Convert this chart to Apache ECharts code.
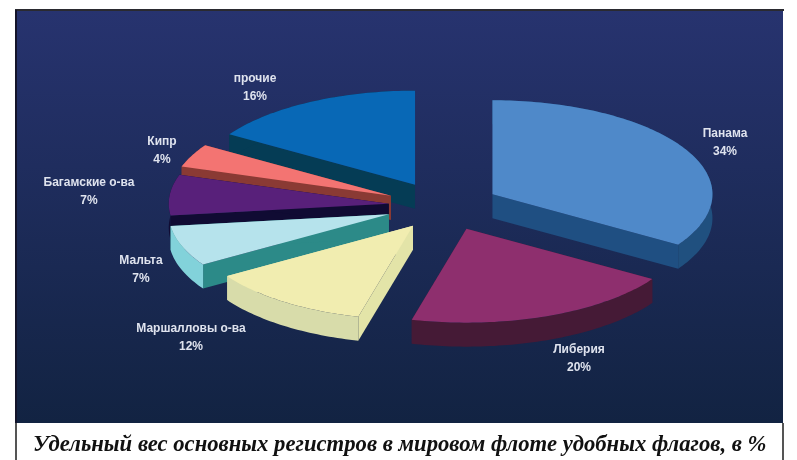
<!DOCTYPE html>
<html>
<head>
<meta charset="utf-8">
<style>html,body{margin:0;background:#fff}#main{width:797px;height:460px}</style>
<script src="https://cdn.jsdelivr.net/npm/echarts@6/dist/echarts.min.js"></script>
</head>
<body>
<div id="main"></div>
<script>
var names = ['Панама', 'Либерия', 'Маршалловы о-ва', 'Мальта', 'Багамские о-ва', 'Кипр', 'прочие']
var shares = [34, 20, 12, 7, 7, 4, 16]
var topColors = ['#4f89c9', '#8e2f6e', '#f1edb0', '#b6e3ec', '#58207a', '#f37472', '#0868b6']
var edgeColors = ['#1f4f82', '#4a1a38', '#e3e4a8', '#2c8a88', '#100b33', '#8a3a34', '#053c55']
var rimColors = ['#20507f', '#451a36', '#d8dcaa', '#82d2da', '#100b33', '#8a3a34', '#053c55']
var labelAt = [[725, 143], [579, 359], [191, 338], [141, 270], [89, 192], [162, 151], [255, 88]]
// back to front
var paintOrder = [6, 0, 5, 4, 3, 1, 2]
var nudgeX = [0, 3, 4, 0, 3, 0, 0]
var caption = 'Удельный вес основных регистров в мировом флоте удобных флагов, в %'

var cx = 442.5
var cy = 206
var rx = 220
var ry = 94
var depth = 24
var explode = 57

var starts = []
var sum = 0
shares.forEach(function(s) {
  starts.push(sum)
  sum += s
})

function toAngle(pct) {
  return (pct / 100 * 360 - 90) * Math.PI / 180
}

function renderSlice(params, api) {
  var idx = api.value(0)
  var a0 = toAngle(starts[idx])
  var a1 = toAngle(starts[idx] + shares[idx])
  var mid = (a0 + a1) / 2
  var ox = cx + explode * Math.cos(mid) + nudgeX[idx]
  var oy = cy + explode * Math.sin(mid) * ry / rx

  var arc = []
  var steps = Math.ceil((a1 - a0) / 0.02)
  for (var i = 0; i <= steps; i++) {
    var a = a0 + (a1 - a0) * i / steps
    arc.push([ox + rx * Math.cos(a), oy + ry * Math.sin(a)])
  }
  var first = arc[0]
  var last = arc[arc.length - 1]

  function down(p) {
    return [p[0], p[1] + depth]
  }
  function poly(points, color) {
    return { type: 'polygon', shape: { points: points }, style: { fill: color } }
  }

  var rim = arc.concat(arc.map(down).reverse())
  return {
    type: 'group',
    children: [
      poly([[ox, oy], first, down(first), [ox, oy + depth]], edgeColors[idx]),
      poly([[ox, oy], last, down(last), [ox, oy + depth]], edgeColors[idx]),
      poly(rim, rimColors[idx]),
      poly([[ox, oy]].concat(arc), topColors[idx]),
      {
        type: 'text',
        z2: 100,
        style: {
          x: labelAt[idx][0],
          y: labelAt[idx][1],
          text: names[idx] + '\n' + shares[idx] + '%',
          fill: '#dfe3ee',
          font: 'bold 12px "Liberation Sans", Arial, sans-serif',
          lineHeight: 18,
          align: 'center',
          verticalAlign: 'middle'
        }
      }
    ]
  }
}

var myChart = echarts.init(document.getElementById('main'), null, { renderer: 'canvas' })
myChart.setOption({
  animation: false,
  graphic: [
    { type: 'rect', z: -10, shape: { x: 15, y: 10, width: 768, height: 413 },
      style: {
        fill: new echarts.graphic.LinearGradient(0, 0, 0, 1, [
          { offset: 0, color: '#27336f' },
          { offset: 1, color: '#122342' }
        ])
      } },
    { type: 'rect', z: -9, shape: { x: 15, y: 9, width: 769, height: 2 }, style: { fill: '#2a2a30' } },
    { type: 'rect', z: -9, shape: { x: 15, y: 10, width: 2, height: 413 }, style: { fill: '#14142a' } },
    { type: 'rect', z: -9, shape: { x: 15, y: 423, width: 2, height: 37 }, style: { fill: '#555' } },
    { type: 'rect', z: -9, shape: { x: 782, y: 423, width: 2, height: 37 }, style: { fill: '#555' } },
    { type: 'text', z: 5, style: {
      x: 33, y: 445, text: caption, fill: '#111',
      font: 'italic bold 22.7px "Liberation Serif", serif',
      verticalAlign: 'middle'
    } }
  ],
  series: [{
    type: 'custom',
    coordinateSystem: 'none',
    silent: true,
    clip: false,
    renderItem: renderSlice,
    data: paintOrder.map(function(i) { return [i, shares[i]] })
  }]
})
</script>
</body>
</html>
